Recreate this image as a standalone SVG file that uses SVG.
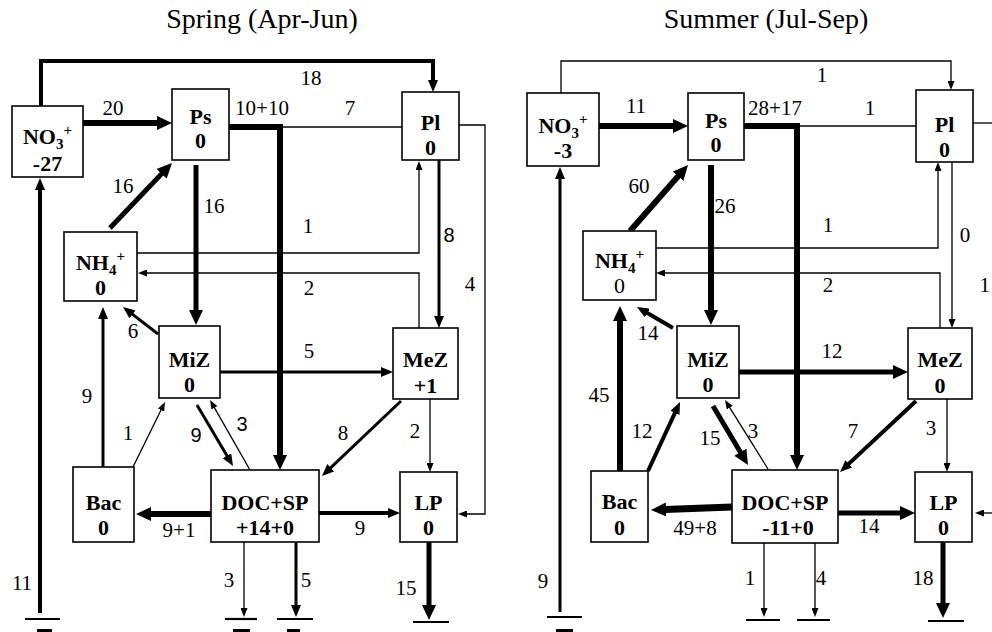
<svg xmlns="http://www.w3.org/2000/svg" width="992" height="632" viewBox="0 0 992 632">
<style>
.box{fill:#fff;stroke:#000;stroke-width:1.6}
.bt{font-family:"Liberation Serif",serif;font-weight:bold;font-size:22px;text-anchor:middle}
.rt{font-family:"Liberation Serif",serif;font-size:22px;text-anchor:middle}
.lb{font-family:"Liberation Serif",serif;font-size:21px;text-anchor:middle}
.ls{font-family:"Liberation Sans",sans-serif;font-size:20px;text-anchor:middle}
.ti{font-family:"Liberation Serif",serif;font-size:28px;text-anchor:middle}
.c path{fill:none;stroke:#000;stroke-linejoin:miter}
.w1{stroke-width:1.3}
.w3{stroke-width:3}
.w4{stroke-width:4}
.w5{stroke-width:5}
.w6{stroke-width:6}
.w7{stroke-width:7}
.g{stroke-width:2.2}
.L{marker-end:url(#aL)}
.M{marker-end:url(#aM)}
.S{marker-end:url(#aS)}
</style>
<defs>
<marker id="aL" markerUnits="userSpaceOnUse" markerWidth="15" markerHeight="14" viewBox="0 0 15 14" refX="7.5" refY="7" orient="auto"><path d="M0,0 L15,7 L0,14 z" fill="#000"/></marker>
<marker id="aM" markerUnits="userSpaceOnUse" markerWidth="12" markerHeight="10" viewBox="0 0 12 10" refX="6" refY="5" orient="auto"><path d="M0,0 L12,5 L0,10 z" fill="#000"/></marker>
<marker id="aS" markerUnits="userSpaceOnUse" markerWidth="9" markerHeight="7" viewBox="0 0 9 7" refX="4.5" refY="3.5" orient="auto"><path d="M0,0 L9,3.5 L0,7 z" fill="#000"/></marker>
</defs>
<rect width="992" height="632" fill="#fff"/>
<text class="ti" x="262" y="28">Spring (Apr-Jun)</text>
<text class="ti" x="766" y="28">Summer (Jul-Sep)</text>

<g id="connectors" class="c">
<!-- Spring -->
<path class="w4 M" d="M41,106 V61 H433 V86"/>
<path class="w6 L" d="M83,123 H164.5"/>
<path class="w6 L" d="M229,127 H280 V462.5"/>
<path class="w1" d="M280,127 H402"/>
<path class="w5 L" d="M110,228 L166.8,168.4"/>
<path class="w5 L" d="M196,165 V317.5"/>
<path class="w1 S" d="M137,253 H419 V165.5"/>
<path class="w1 S" d="M419,328 V273 H142.5"/>
<path class="w3 M" d="M439,160 V322"/>
<path class="w1 S" d="M459,125 H485 V514 H462.5"/>
<path class="w3 M" d="M158,334 L127.75,310.67"/>
<path class="w3 M" d="M103,467 V313"/>
<path class="w3 M" d="M220,372 H387"/>
<path class="w1 S" d="M133,467 L163.01,406.04"/>
<path class="w3 M" d="M197,405 L229.95,460.83"/>
<path class="w1 S" d="M250,470 L212.23,403.91"/>
<path class="w3 M" d="M401,401 L326.35,471.87"/>
<path class="w1 S" d="M430,399 V467.5"/>
<path class="w6 L" d="M211,514 H143.5"/>
<path class="w4 M" d="M319,513 H394"/>
<path class="w5 L" d="M429,542 V612.5"/>
<path class="g" d="M413,622 H449"/>
<path class="w1 S" d="M244,542 V612.5"/>
<path class="g" d="M225,619 H257"/>
<path class="w3 M" d="M296,542 V611"/>
<path class="g" d="M277,619 H313"/>
<path class="w4 M" d="M40,613 V184"/>
<path class="g" d="M25,619 H60"/>
<!-- Summer -->
<path class="w1 S" d="M561,93 V61 H951 V85.5"/>
<path class="w6 L" d="M599,126 H680.5"/>
<path class="w6 L" d="M744,126 H797 V462.5"/>
<path class="w1" d="M797,126 H916"/>
<path class="w6 L" d="M630,231 L683.05,170.63"/>
<path class="w6 L" d="M711,165 V317.5"/>
<path class="w1 S" d="M656,248 H938 V166.5"/>
<path class="w1 S" d="M940,328 V273 H660.5"/>
<path class="w1 S" d="M952,162 V323.5"/>
<path class="w1" d="M973,123 H992"/>
<path class="w1 S" d="M992,513 H979.5"/>
<path class="w4 M" d="M673,328 L642.18,310.02"/>
<path class="w6 L" d="M620,471 V313.5"/>
<path class="w5 L" d="M739,372 H900.5"/>
<path class="w4 M" d="M648,471 L677.48,407.44"/>
<path class="w5 L" d="M713,406 L744.18,458.55"/>
<path class="w1 S" d="M768,469 L727.38,403.82"/>
<path class="w4 M" d="M916,401 L844.39,467.9"/>
<path class="w1 S" d="M947,399 V467.5"/>
<path class="w7 L" d="M732,507 L658.5,509.7"/>
<path class="w5 L" d="M838,513 H907.5"/>
<path class="w5 L" d="M943,542 V610.5"/>
<path class="g" d="M928,621 H964"/>
<path class="w1 S" d="M764,543 V612.5"/>
<path class="g" d="M746,620 H780"/>
<path class="w1 S" d="M815,543 V612.5"/>
<path class="g" d="M797,620 H830"/>
<path class="w3 M" d="M560,612 V173"/>
<path class="g" d="M547,617 H582"/>
</g>

<g id="bottom-marks" fill="#000">
<rect x="37" y="629" width="15" height="3"/>
<rect x="233" y="629" width="17" height="3"/>
<rect x="287" y="629" width="13" height="3"/>
<rect x="556" y="629" width="17" height="3"/>
</g>

<g id="labels">
<text class="lb" x="311" y="85">18</text>
<text class="lb" x="113" y="115">20</text>
<text class="lb" x="262" y="115">10+10</text>
<text class="lb" x="350" y="115">7</text>
<text class="lb" x="123" y="193">16</text>
<text class="lb" x="214" y="213">16</text>
<text class="lb" x="308" y="233">1</text>
<text class="ls" x="449" y="242">8</text>
<text class="lb" x="309" y="295">2</text>
<text class="lb" x="470" y="291">4</text>
<text class="lb" x="133" y="338">6</text>
<text class="lb" x="309" y="358">5</text>
<text class="lb" x="87" y="403">9</text>
<text class="lb" x="128" y="440">1</text>
<text class="ls" x="196" y="442">9</text>
<text class="ls" x="242" y="431">3</text>
<text class="lb" x="343" y="440">8</text>
<text class="lb" x="415" y="438">2</text>
<text class="lb" x="179" y="537">9+1</text>
<text class="lb" x="360" y="535">9</text>
<text class="lb" x="229" y="587">3</text>
<text class="lb" x="306" y="587">5</text>
<text class="lb" x="406" y="595">15</text>
<text class="lb" x="22" y="590">11</text>

<text class="lb" x="822" y="82">1</text>
<text class="lb" x="636" y="113">11</text>
<text class="lb" x="775" y="115">28+17</text>
<text class="lb" x="870" y="115">1</text>
<text class="lb" x="639" y="193">60</text>
<text class="lb" x="725" y="213">26</text>
<text class="lb" x="828" y="232">1</text>
<text class="lb" x="965" y="242">0</text>
<text class="lb" x="828" y="292">2</text>
<text class="lb" x="990" y="292" style="text-anchor:end">1</text>
<text class="lb" x="648" y="340">14</text>
<text class="lb" x="832" y="358">12</text>
<text class="lb" x="599" y="402">45</text>
<text class="lb" x="642" y="438">12</text>
<text class="lb" x="710" y="445">15</text>
<text class="lb" x="753" y="438">3</text>
<text class="lb" x="853" y="438">7</text>
<text class="lb" x="931" y="435">3</text>
<text class="lb" x="695" y="535">49+8</text>
<text class="lb" x="869" y="533">14</text>
<text class="lb" x="750" y="585">1</text>
<text class="lb" x="821" y="585">4</text>
<text class="lb" x="923" y="585">18</text>
<text class="lb" x="543" y="588">9</text>
</g>

<!-- Spring nodes -->
<g id="sp-no3"><rect class="box" x="12" y="106" width="71" height="71"/><text class="bt" x="47.5" y="144">NO<tspan font-size="15" dy="5">3</tspan><tspan font-size="15" dy="-14">+</tspan></text><text class="bt" x="47.5" y="171">-27</text></g>
<g id="sp-ps"><rect class="box" x="172" y="89" width="57" height="71"/><text class="bt" x="200.5" y="124">Ps</text><text class="bt" x="200.5" y="148">0</text></g>
<g id="sp-pl"><rect class="box" x="402" y="92" width="57" height="68"/><text class="bt" x="430.5" y="130">Pl</text><text class="bt" x="430.5" y="155">0</text></g>
<g id="sp-nh4"><rect class="box" x="64" y="232" width="73" height="69"/><text class="bt" x="100.5" y="270">NH<tspan font-size="15" dy="5">4</tspan><tspan font-size="15" dy="-14">+</tspan></text><text class="bt" x="100.5" y="295">0</text></g>
<g id="sp-miz"><rect class="box" x="159" y="326" width="61" height="72"/><text class="bt" x="189.5" y="367">MiZ</text><text class="bt" x="189.5" y="392">0</text></g>
<g id="sp-mez"><rect class="box" x="393" y="328" width="65" height="71"/><text class="bt" x="425.5" y="367">MeZ</text><text class="bt" x="425.5" y="393">+1</text></g>
<g id="sp-bac"><rect class="box" x="73" y="467" width="61" height="75"/><text class="bt" x="103.5" y="510">Bac</text><text class="bt" x="103.5" y="535">0</text></g>
<g id="sp-doc"><rect class="box" x="211" y="470" width="108" height="72"/><text class="bt" x="265" y="510">DOC+SP</text><text class="bt" x="265" y="535">+14+0</text></g>
<g id="sp-lp"><rect class="box" x="400" y="472" width="57" height="70"/><text class="bt" x="428.5" y="510">LP</text><text class="bt" x="428.5" y="535">0</text></g>

<!-- Summer nodes -->
<g id="su-no3"><rect class="box" x="527" y="93" width="72" height="73"/><text class="bt" x="563" y="133">NO<tspan font-size="15" dy="5">3</tspan><tspan font-size="15" dy="-14">+</tspan></text><text class="bt" x="563" y="158">-3</text></g>
<g id="su-ps"><rect class="box" x="688" y="93" width="56" height="67"/><text class="bt" x="716" y="128">Ps</text><text class="bt" x="716" y="152">0</text></g>
<g id="su-pl"><rect class="box" x="916" y="90" width="57" height="72"/><text class="bt" x="944.5" y="132">Pl</text><text class="bt" x="944.5" y="157">0</text></g>
<g id="su-nh4"><rect class="box" x="583" y="231" width="73" height="69"/><text class="bt" x="619.5" y="268">NH<tspan font-size="15" dy="5">4</tspan><tspan font-size="15" dy="-14">+</tspan></text><text class="rt" x="619.5" y="293">0</text></g>
<g id="su-miz"><rect class="box" x="677" y="326" width="62" height="72"/><text class="bt" x="708" y="367">MiZ</text><text class="bt" x="708" y="392">0</text></g>
<g id="su-mez"><rect class="box" x="908" y="328" width="64" height="71"/><text class="bt" x="940" y="367">MeZ</text><text class="bt" x="940" y="393">0</text></g>
<g id="su-bac"><rect class="box" x="591" y="471" width="57" height="71"/><text class="bt" x="619.5" y="509">Bac</text><text class="bt" x="619.5" y="535">0</text></g>
<g id="su-doc"><rect class="box" x="732" y="470" width="106" height="73"/><text class="bt" x="785" y="510">DOC+SP</text><text class="bt" x="788" y="535">-11+0</text></g>
<g id="su-lp"><rect class="box" x="915" y="472" width="57" height="70"/><text class="bt" x="943.5" y="510">LP</text><text class="bt" x="943.5" y="535">0</text></g>
</svg>
